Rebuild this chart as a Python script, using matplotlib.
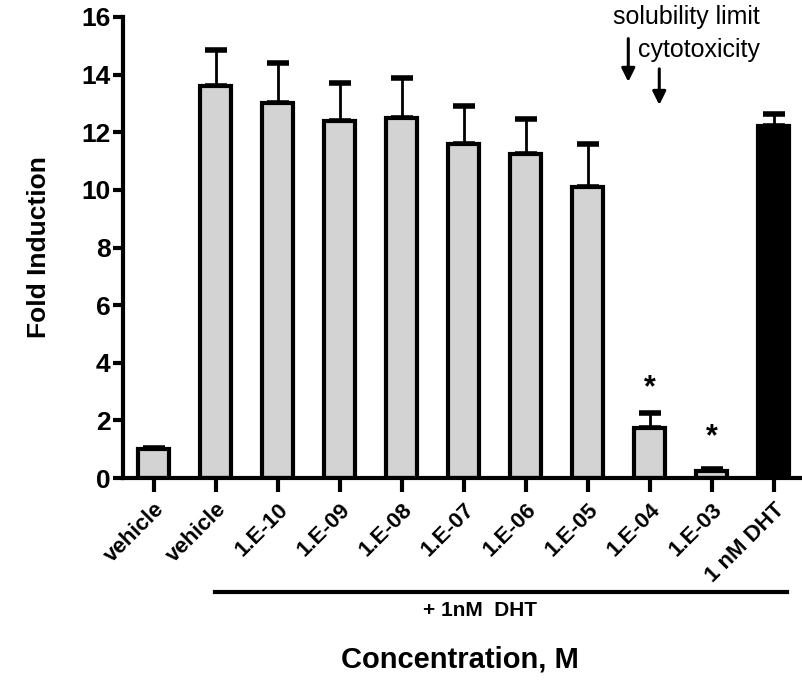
import matplotlib
matplotlib.use("Agg")
import matplotlib.pyplot as plt
import numpy as np

plt.rcParams['font.family'] = ['Liberation Sans', 'DejaVu Sans']
plt.rcParams['font.weight'] = 'bold'

labels = ['vehicle', 'vehicle', '1.E-10', '1.E-09', '1.E-08', '1.E-07',
          '1.E-06', '1.E-05', '1.E-04', '1.E-03', '1 nM DHT']
fold = [1.0, 13.6, 13.0, 12.4, 12.5, 11.6, 11.25, 10.1, 1.75, 0.25, 12.2]
sem = [0.05, 1.25, 1.4, 1.3, 1.4, 1.3, 1.2, 1.5, 0.5, 0.05, 0.45]
colors = ['#d3d3d3'] * 10 + ['black']
stars = {8: 3.1, 9: 1.4}

fig = plt.figure(figsize=(8.03, 6.86), dpi=100)
ax = fig.add_axes([123 / 803, 1 - 478 / 686, 677 / 803, 461 / 686])

x = np.arange(len(labels))
ax.errorbar(x, fold, yerr=[np.zeros(len(sem)), sem], fmt='none', ecolor='black',
            elinewidth=2, capsize=8, capthick=4, zorder=1)
ax.bar(x, fold, width=0.5, color=colors, edgecolor='black', linewidth=3, zorder=2)

for i, y in stars.items():
    ax.text(x[i], y, '*', ha='center', va='center', fontsize=22)

ax.set_xlim(-0.5, 10.42)
ax.set_ylim(0, 16)
ax.set_yticks(range(0, 17, 2))
ax.set_xticks(x)
ax.set_xticklabels(labels, rotation=45, ha='right', va='top', rotation_mode='anchor',
                   fontsize=16)
ax.tick_params(axis='y', labelsize=19, width=3, length=7, direction='out', pad=2)
ax.tick_params(axis='x', width=3, length=10, direction='out', pad=5)
for s in ['top', 'right']:
    ax.spines[s].set_visible(False)
for s in ['left', 'bottom']:
    ax.spines[s].set_linewidth(3)
ax.spines['left'].set_bounds(0, 16)

ax.set_ylabel('Fold Induction', fontsize=19, fontweight='bold', labelpad=22)

# arrows for solubility limit and cytotoxicity
arrow = dict(arrowstyle='-|>', color='black', lw=2.2, mutation_scale=20,
             shrinkA=0, shrinkB=0)
ax.annotate('', xy=(7.65, 13.75), xytext=(7.65, 15.25), arrowprops=arrow,
            annotation_clip=False)
ax.annotate('', xy=(8.15, 12.95), xytext=(8.15, 14.2), arrowprops=arrow,
            annotation_clip=False)
ax.text(8.58, 16.0, 'solubility limit', ha='center', va='center', fontsize=18,
        fontweight='normal', clip_on=False)
ax.text(8.79, 14.85, 'cytotoxicity', ha='center', va='center', fontsize=18,
        fontweight='normal', clip_on=False)

# group bracket
fig.add_artist(plt.Line2D([215 / 803, 787 / 803], [1 - 592 / 686] * 2,
                          color='black', lw=3))
fig.text(480 / 803, 1 - 610 / 686, '+ 1nM  DHT', ha='center', va='center', fontsize=15)
fig.text(460 / 803, 1 - 660 / 686, 'Concentration, M', ha='center', va='center',
         fontsize=21)

fig.savefig('out.png', dpi=100)
